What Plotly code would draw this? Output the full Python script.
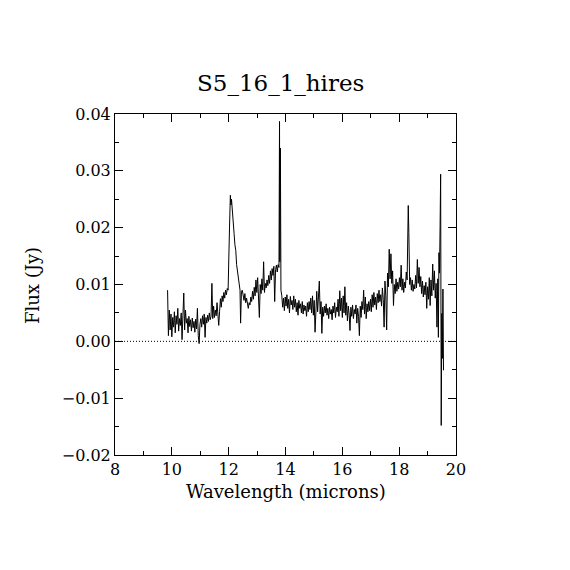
import plotly.graph_objects as go

# spectrum, wavelength in microns, flux in mJy
wave_a = [9.85, 9.88, 9.91, 9.94, 9.97, 10.00, 10.03, 10.06, 10.09, 10.12, 10.15, 10.18, 10.21,
          10.24, 10.27, 10.30, 10.33, 10.36, 10.39, 10.42, 10.45, 10.48, 10.51, 10.54, 10.57, 10.60,
          10.63, 10.66, 10.69, 10.72, 10.75, 10.78, 10.81, 10.84, 10.87, 10.90, 10.93, 10.96, 10.99]
flux_a = [9.0, 1.0, 5.5, 2.0, 4.8, 0.8, 4.2, 2.5, 5.2, 1.5, 4.5, 3.0, 5.8,
          1.8, 4.0, 2.8, 5.0, 0.3, 4.6, 8.5, 2.0, 5.5, 3.2, 4.0, 1.5, 4.4,
          2.6, 3.8, 1.8, 4.1, 2.4, 3.5, 1.6, 3.9, 2.2, 5.8, 1.0, -0.4, 3.0]

wave_b = [11.02, 11.05, 11.08, 11.11, 11.14, 11.17, 11.20, 11.23, 11.26, 11.29, 11.32,
          11.35, 11.38, 11.41, 11.44, 11.47, 11.50, 11.53, 11.56, 11.59, 11.62, 11.65,
          11.68, 11.71, 11.74, 11.77, 11.80, 11.83, 11.86, 11.89, 11.92, 11.95, 11.98]
flux_b = [4.0, 2.5, 4.5, 3.0, 4.8, 0.7, 4.2, 3.2, 4.6, 3.5, 5.0,
          3.8, 4.4, 10.2, 4.0, 6.2, 4.2, 5.5, 4.5, 6.8, 4.8, 2.8,
          5.2, 7.5, 6.0, 8.0, 7.0, 8.6, 7.6, 9.0, 8.2, 9.3, 9.0]

# 12.1 micron feature
wave_c = [12.01, 12.03, 12.06, 12.08, 12.10, 12.13, 12.16, 12.19, 12.22,
          12.25, 12.28, 12.31, 12.34, 12.37, 12.40, 12.42, 12.45, 12.48]
flux_c = [13.4, 20.1, 25.7, 24.0, 25.0, 23.4, 20.5, 19.0, 17.0,
          16.0, 13.5, 12.5, 11.0, 10.4, 9.0, 3.2, 8.8, 9.0]

wave_d = [12.51, 12.54, 12.57, 12.60, 12.63, 12.66, 12.69, 12.72, 12.75, 12.78, 12.81,
          12.84, 12.87, 12.90, 12.93, 12.96, 12.99, 13.02, 13.05, 13.08, 13.11, 13.14,
          13.17, 13.20, 13.23, 13.26, 13.29, 13.32, 13.35, 13.38, 13.41, 13.44, 13.47,
          13.50, 13.53, 13.56, 13.59, 13.62, 13.65, 13.68, 13.71, 13.74, 13.77]
flux_d = [8.0, 7.2, 8.4, 6.8, 7.6, 6.2, 5.8, 6.8, 6.4, 7.8, 7.0,
          8.8, 7.4, 9.5, 8.0, 10.8, 8.6, 11.2, 7.8, 4.2, 10.0, 8.4,
          11.0, 9.0, 14.0, 8.6, 10.2, 9.4, 10.8, 9.8, 11.6, 10.2, 12.4,
          10.8, 12.8, 11.6, 13.2, 7.0, 12.6, 13.4, 12.2, 13.5, 13.0]

# line near 13.8
wave_spike = [13.79, 13.80, 13.82, 13.84]
flux_spike = [38.7, 14.0, 34.0, 9.0]

wave_e = [13.87, 13.90, 13.93, 13.96, 13.99, 14.02, 14.05, 14.08, 14.11, 14.14, 14.17, 14.20,
          14.23, 14.26, 14.29, 14.32, 14.35, 14.38, 14.41, 14.44, 14.47, 14.50, 14.53, 14.56,
          14.59, 14.62, 14.65, 14.68, 14.71, 14.74, 14.77, 14.80, 14.83, 14.86, 14.89, 14.92,
          14.95, 14.98, 15.01, 15.04, 15.07, 15.10, 15.13, 15.16, 15.19, 15.22, 15.25, 15.28,
          15.31, 15.34, 15.37, 15.40, 15.43, 15.46, 15.49, 15.52, 15.55, 15.58, 15.61, 15.64,
          15.67, 15.70, 15.73, 15.76, 15.79, 15.82, 15.85, 15.88, 15.91, 15.94, 15.97, 16.00,
          16.03, 16.06, 16.09, 16.12, 16.15, 16.18, 16.21, 16.24, 16.27, 16.30, 16.33, 16.36,
          16.39, 16.42, 16.45, 16.48, 16.51, 16.54, 16.57, 16.60, 16.63, 16.66, 16.69, 16.72,
          16.75, 16.78, 16.81, 16.84, 16.87, 16.90, 16.93, 16.96, 16.99]
flux_e = [8.0, 6.0, 7.6, 5.4, 7.8, 6.2, 8.2, 5.8, 7.4, 5.0, 7.9, 6.4,
          7.2, 5.6, 8.0, 6.0, 7.4, 5.2, 6.8, 4.6, 7.2, 5.8, 6.6, 5.0,
          7.0, 4.8, 6.4, 5.4, 6.2, 4.4, 6.8, 5.2, 7.0, 5.6, 7.6, 5.0,
          8.0, 4.6, 7.2, 1.6, 6.4, 8.8, 5.2, 8.4, 10.6, 4.8, 7.0, 1.4,
          6.0, 4.4, 6.2, 5.0, 6.6, 4.6, 5.8, 4.0, 6.0, 4.8, 5.6, 3.8,
          6.2, 5.0, 6.8, 4.2, 6.0, 5.2, 7.4, 4.4, 8.9, 5.4, 7.6, 4.2,
          8.0, 5.0, 9.6, 4.6, 6.8, 3.6, 6.2, 4.8, 1.9, 6.0, 4.4, 6.4,
          4.0, 5.6, 4.8, 6.4, 3.2, 5.8, 4.4, 1.0, 6.2, 4.2, 7.0, 5.6,
          9.0, 4.8, 7.8, 4.0, 6.6, 5.2, 7.0, 5.4, 7.4]

wave_f = [17.02, 17.05, 17.08, 17.11, 17.14, 17.17, 17.20, 17.23, 17.26, 17.29, 17.32, 17.35,
          17.38, 17.41, 17.44, 17.47, 17.50, 17.53, 17.56, 17.59, 17.62, 17.65, 17.68, 17.71,
          17.74, 17.77, 17.80, 17.83, 17.86, 17.89, 17.92, 17.95, 17.98, 18.01, 18.04, 18.07,
          18.10, 18.13, 18.16, 18.19, 18.22, 18.25, 18.28, 18.30, 18.32, 18.34, 18.37]
flux_f = [5.2, 8.2, 6.0, 8.6, 6.4, 7.8, 5.6, 8.4, 6.8, 9.0, 7.0, 8.2,
          6.2, 9.4, 7.4, 2.5, 10.6, 8.0, 2.0, 12.0, 9.6, 16.2, 11.0, 15.4,
          10.2, 12.4, 6.3, 10.0, 8.4, 11.0, 8.8, 10.4, 9.2, 11.2, 9.6, 13.4,
          9.0, 11.0, 8.6, 10.4, 9.4, 12.2, 10.8, 17.2, 23.9, 19.2, 10.0]

wave_g = [18.40, 18.43, 18.46, 18.49, 18.52, 18.55, 18.58, 18.61, 18.64, 18.67, 18.70, 18.73,
          18.76, 18.79, 18.82, 18.85, 18.88, 18.91, 18.94, 18.97, 19.00, 19.03, 19.06, 19.09,
          19.12, 19.15, 19.18, 19.21, 19.24, 19.27, 19.30, 19.33, 19.36, 19.38, 19.40, 19.42]
flux_g = [11.2, 9.0, 10.8, 8.8, 10.0, 9.2, 11.6, 9.4, 14.4, 10.2, 13.0, 9.6,
          11.4, 8.4, 10.6, 7.8, 9.8, 8.2, 10.4, 5.8, 9.6, 7.4, 11.2, 6.3,
          10.8, 8.0, 13.6, 9.0, 12.4, 7.6, 10.2, 2.5, 11.0, 0.7, 15.6, 12.0]

# noisy red end of the order
wave_end = [19.44, 19.46, 19.48, 19.50, 19.52, 19.54, 19.56]
flux_end = [20.2, 29.4, -14.8, 4.9, -3.0, 9.2, -5.1]

wavelength = wave_a + wave_b + wave_c + wave_d + wave_spike + wave_e + wave_f + wave_g + wave_end
flux_mjy = flux_a + flux_b + flux_c + flux_d + flux_spike + flux_e + flux_f + flux_g + flux_end
flux = [v / 1000.0 for v in flux_mjy]

font = "DejaVu Serif"

fig = go.Figure()
fig.add_trace(go.Scatter(x=wavelength, y=flux, mode="lines",
                         line=dict(color="black", width=1), hoverinfo="skip"))

# dotted zero level
fig.add_shape(type="line", xref="paper", yref="y", x0=0, x1=1, y0=0, y1=0,
              line=dict(color="black", width=1, dash="1px,2px"))

axis_style = dict(showline=True, linecolor="black", linewidth=1, mirror="ticks",
                  ticks="inside", ticklen=8, tickcolor="black", tickwidth=1,
                  showgrid=False, zeroline=False,
                  tickfont=dict(family=font, size=16, color="black"))

fig.update_xaxes(range=[8, 20], tick0=8, dtick=2,
                 minor=dict(dtick=1, ticks="inside", ticklen=4, tickcolor="black", showgrid=False),
                 **axis_style)
fig.update_yaxes(range=[-0.02, 0.04], tick0=0, dtick=0.01, tickformat=".2f",
                 minor=dict(dtick=0.005, ticks="inside", ticklen=4, tickcolor="black", showgrid=False),
                 **axis_style)

fig.add_annotation(text="S5_16_1_hires", xref="paper", yref="paper", x=0.485, y=1.091,
                   xanchor="center", yanchor="middle",
                   showarrow=False, font=dict(family=font, size=23, color="black"))
fig.add_annotation(text="Wavelength (microns)", xref="paper", yref="paper", x=0.5, y=-0.108,
                   xanchor="center", yanchor="middle",
                   showarrow=False, font=dict(family=font, size=18, color="black"))
fig.add_annotation(text="Flux (Jy)", xref="paper", yref="paper", x=-0.24, y=0.496,
                   xanchor="center", yanchor="middle", textangle=-90,
                   showarrow=False, font=dict(family=font, size=18, color="black"))

# the page body adds an 8px offset, so the figure is a bit smaller than the window
fig.update_layout(width=554, height=554, autosize=False,
                  margin=dict(l=107, r=106, t=106, b=107),
                  paper_bgcolor="white", plot_bgcolor="white",
                  showlegend=False)

fig.write_html("out.html")
